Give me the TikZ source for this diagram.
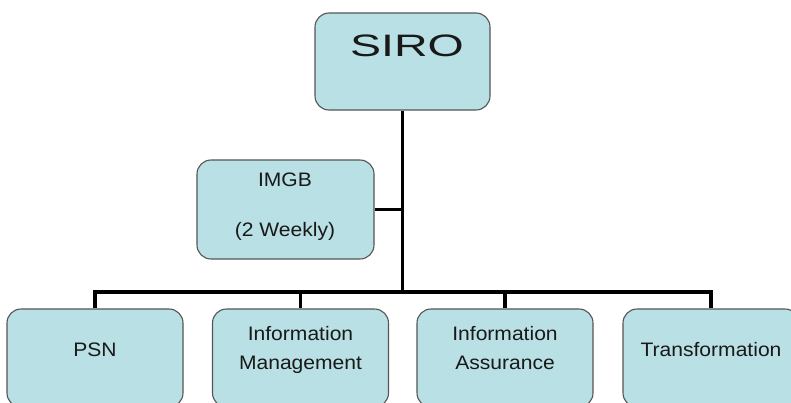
\documentclass[tikz,border=0pt]{standalone}
\usepackage{fontspec}
\setmainfont{Liberation Sans}
\usepackage{graphicx}
\definecolor{boxfill}{RGB}{185,224,228}
\definecolor{boxline}{RGB}{85,85,85}
\definecolor{ink}{RGB}{25,25,25}
\newcommand\wtext[1]{\scalebox{1.08}[1]{#1}}
\pgfdeclarelayer{background}
\pgfsetlayers{background,main}
\begin{document}
\begin{tikzpicture}[x=1pt,y=-1pt,
  orgbox/.style={draw=boxline, line width=1.1pt, fill=boxfill,
    rounded corners=14pt, inner sep=0pt,
    minimum width=176pt, minimum height=98pt},
  caption/.style={anchor=base, inner sep=0pt, text=ink, align=center,
    font=\fontsize{19.5}{29}\selectfont},
  conn/.style={line width=3.5pt, draw=black, line join=miter}]
  % canvas and clipping frame
  \useasboundingbox (0,0) rectangle (791,402);
  \clip (0,0) rectangle (791,402);

  % boxes
  \node[orgbox, minimum width=175pt, minimum height=97pt] (siro) at (402.5,61.5) {};
  \node[orgbox, minimum width=177pt, minimum height=99pt] (imgb) at (285.5,209.5) {};
  \node[orgbox] (psn) at (95,358) {};
  \node[orgbox] (im) at (300.5,358) {};
  \node[orgbox] (ia) at (505,358) {};
  \node[orgbox] (tr) at (711,358) {};

  % box texts (base anchor sits on the last line)
  \node[caption, font=\fontsize{31}{31}\selectfont] (siro-t) at (407,56) {\scalebox{1.5}[1]{SIRO}};
  \node[caption] (imgb-t) at (285,236) {\wtext{IMGB}\\[21pt]\wtext{(2 Weekly)}};
  \node[caption] (psn-t) at (95,356) {\wtext{PSN}};
  \node[caption] (im-t) at (300.5,369) {\wtext{Information}\\\wtext{Management}};
  \node[caption] (ia-t) at (505,369) {\wtext{Information}\\\wtext{Assurance}};
  \node[caption] (tr-t) at (711,356) {\wtext{Transformation}};

  % connectors
  \coordinate (busy) at (0,292);
  \begin{pgfonlayer}{background}
    \draw[conn] (siro.south) -- (siro.south |- busy);
    \draw[conn] (imgb.east) -- (imgb.east -| siro.south);
    \draw[conn] (psn.north) -- (psn.north |- busy) -- (tr.north |- busy) -- (tr.north);
    \draw[conn] (im.north) -- (im.north |- busy);
    \draw[conn] (ia.north) -- (ia.north |- busy);
  \end{pgfonlayer}
\end{tikzpicture}
\end{document}
